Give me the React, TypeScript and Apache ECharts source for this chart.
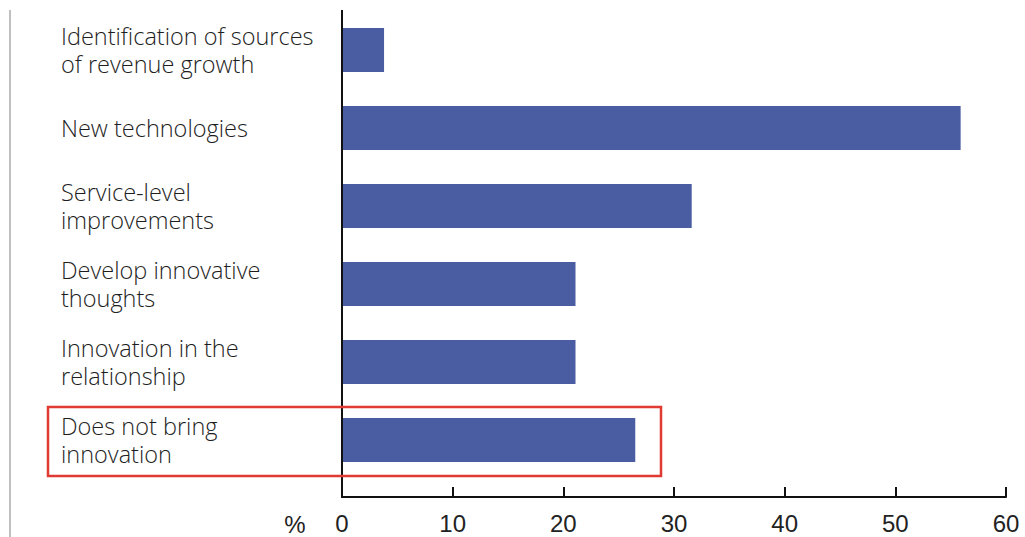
import React, { useEffect, useRef } from "react";
import * as echarts from "echarts";

const categories = [
  "Identification of sources\nof revenue growth",
  "New technologies",
  "Service-level\nimprovements",
  "Develop innovative\nthoughts",
  "Innovation in the\nrelationship",
  "Does not bring\ninnovation",
];
const values = [3.8, 55.9, 31.6, 21.1, 21.1, 26.5];
const xTicks = [0, 10, 20, 30, 40, 50, 60];
const unitLabel = "%";

export default function App() {
  const ref = useRef<HTMLDivElement>(null);
  useEffect(() => {
    if (!ref.current) return;
    const chart = echarts.init(ref.current, null, { renderer: "svg" });
    chart.setOption({
      animation: false,
      grid: { left: 342, right: 19, top: 11, bottom: 58, containLabel: false },
      xAxis: {
        type: "value",
        min: xTicks[0],
        max: xTicks[xTicks.length - 1],
        interval: 10,
        offset: 18,
        axisLine: { show: true, lineStyle: { color: "#111", width: 2 } },
        axisTick: { show: true, inside: true, length: 10, lineStyle: { color: "#111", width: 2 } },
        axisLabel: {
          color: "#222",
          fontSize: 24,
          fontFamily: "Liberation Sans, Arial, sans-serif",
          margin: 14,
        },
        splitLine: { show: false },
      },
      yAxis: {
        type: "category",
        inverse: true,
        data: categories,
        axisLine: { show: false },
        axisTick: { show: false },
        axisLabel: {
          align: "left",
          margin: 281,
          color: "#1e1e1e",
          fontSize: 23.5,
          fontWeight: 300,
          lineHeight: 28,
          fontFamily: "Open Sans, Liberation Sans, Arial, sans-serif",
        },
      },
      series: [
        {
          type: "bar",
          data: values,
          barWidth: 44,
          itemStyle: { color: "#4a5da2" },
        },
      ],
      graphic: [
        { type: "line", shape: { x1: 10, y1: 10, x2: 10, y2: 537 }, style: { stroke: "#aaa", lineWidth: 1.5 } },
        { type: "line", shape: { x1: 342, y1: 10, x2: 342, y2: 498 }, style: { stroke: "#111", lineWidth: 2 }, z: 10 },
        {
          type: "rect",
          shape: { x: 48, y: 407, width: 613, height: 69 },
          style: { fill: "none", stroke: "#e03a33", lineWidth: 2.5 },
          z: 10,
        },
        {
          type: "text",
          x: 295,
          y: 524,
          style: {
            text: unitLabel,
            fill: "#222",
            fontSize: 24,
            fontFamily: "Liberation Sans, Arial, sans-serif",
            align: "center",
            verticalAlign: "middle",
          },
        },
      ],
    });
    return () => chart.dispose();
  }, []);
  return (
    <div
      ref={ref}
      style={{ position: "fixed", left: 0, top: 0, width: 1025, height: 537, background: "#fff" }}
    />
  );
}
